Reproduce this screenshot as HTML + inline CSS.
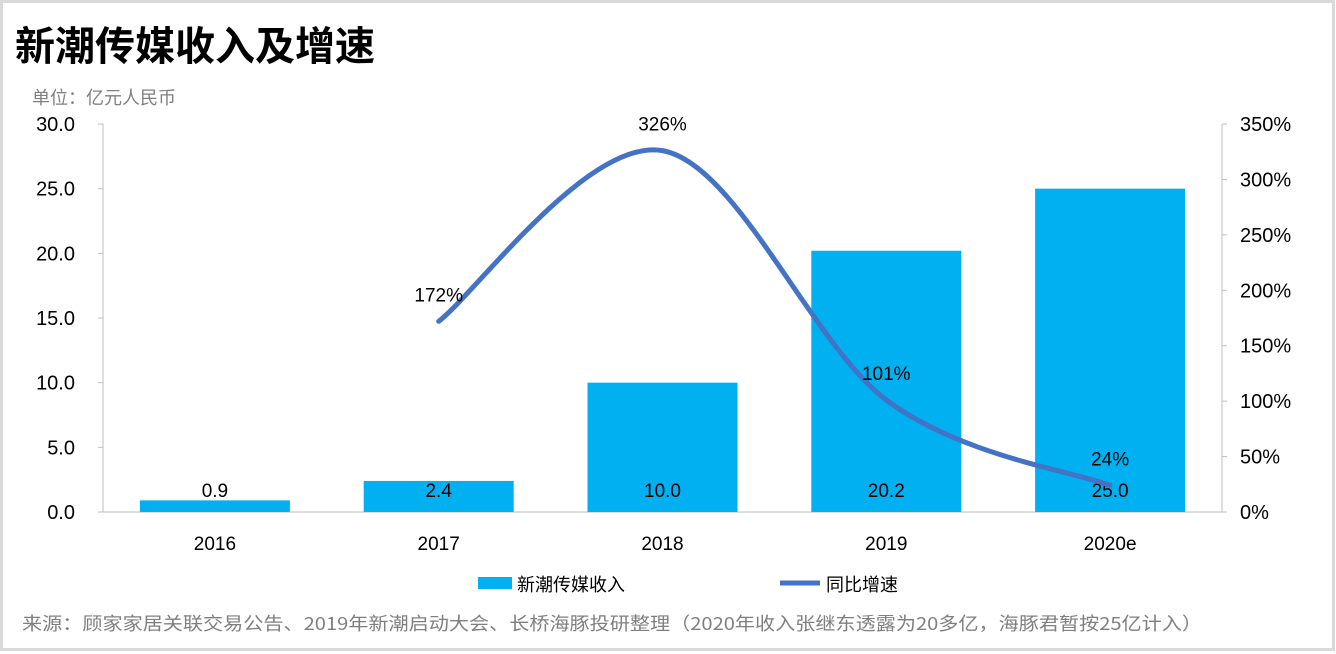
<!DOCTYPE html>
<html><head><meta charset="utf-8"><style>
html,body{margin:0;padding:0;background:#fff;}
svg{display:block;font-family:"Liberation Sans","Noto Sans CJK SC",sans-serif;}
</style></head><body>
<svg id="c" width="1336" height="654" viewBox="0 0 1336 654">
<rect x="1.5" y="1.5" width="1332" height="648" fill="#fff" stroke="#d9d9d9" stroke-width="3"/>
<text x="15" y="60" font-size="40" font-weight="bold" fill="#000" textLength="360" lengthAdjust="spacingAndGlyphs" font-family="'Noto Sans CJK SC',sans-serif">新潮传媒收入及增速</text>
<text x="32" y="104" font-size="18" fill="#7f7f7f" font-family="'Noto Sans CJK SC',sans-serif">单位：亿元人民币</text>
<g id="plot"></g>
<g>
<rect x="478" y="577" width="34" height="12" fill="#00b0f0"/>
<text x="517" y="591" font-size="18" fill="#000" font-family="'Noto Sans CJK SC',sans-serif">新潮传媒收入</text>
<line x1="780" y1="583" x2="820" y2="583" stroke="#4472c4" stroke-width="5"/>
<text x="826" y="591" font-size="18" fill="#000" font-family="'Noto Sans CJK SC',sans-serif">同比增速</text>
</g>
<text x="22" y="630" font-size="18" fill="#7f7f7f" textLength="1180" lengthAdjust="spacingAndGlyphs" font-family="'Noto Sans CJK SC',sans-serif">来源：顾家家居关联交易公告、2019年新潮启动大会、长桥海豚投研整理（2020年收入张继东透露为20多亿，海豚君暂按25亿计入）</text>
</svg>
<script>
const categories=["2016","2017","2018","2019","2020e"];
const revenue=[0.9,2.4,10.0,20.2,25.0];
const growth=[null,172,326,101,24];
const leftTicks=["0.0","5.0","10.0","15.0","20.0","25.0","30.0"];
const rightTicks=["0%","50%","100%","150%","200%","250%","300%","350%"];
const NS="http://www.w3.org/2000/svg";
const g=document.getElementById('plot');
const X0=103,X1=1222,Y0=512,Y1=124;
const band=(X1-X0)/categories.length;
const xc=i=>X0+band*(i+0.5);
const yL=v=>Y0-(v/30)*(Y0-Y1);
const yR=v=>Y0-(v/350)*(Y0-Y1);
function mk(t,a,txt){const e=document.createElementNS(NS,t);for(const k in a)e.setAttribute(k,a[k]);if(txt!=null)e.textContent=txt;g.appendChild(e);return e;}
let ax=mk('line',{x1:X0,y1:Y1,x2:X0,y2:Y0,stroke:'#bfbfbf'});

ax=mk('line',{x1:X1,y1:Y1,x2:X1,y2:Y0,stroke:'#bfbfbf'});

ax=mk('line',{x1:X0,y1:Y0,x2:X1,y2:Y0,stroke:'#bfbfbf'});

leftTicks.forEach((t,i)=>{const y=Y0-i*(Y0-Y1)/(leftTicks.length-1);
 const l=mk('line',{x1:X0-5,y1:y,x2:X0,y2:y,stroke:'#bfbfbf'});
 const e=mk('text',{x:75,y:y+7,'font-size':20,'text-anchor':'end',fill:'#000'},t);
 });
rightTicks.forEach((t,i)=>{const y=Y0-i*(Y0-Y1)/(rightTicks.length-1);
 const l=mk('line',{x1:X1,y1:y,x2:X1+5,y2:y,stroke:'#bfbfbf'});
 const e=mk('text',{x:1240,y:y+7,'font-size':20,fill:'#000'},t);
 });
categories.forEach((c,i)=>{
 const b=mk('rect',{x:xc(i)-75,y:yL(revenue[i]),width:150,height:Y0-yL(revenue[i]),fill:'#00b0f0'});
 
 const v=mk('text',{x:xc(i),y:497,'font-size':19,'text-anchor':'middle',fill:'#000'},revenue[i].toFixed(1));
 
 const t=mk('text',{x:xc(i),y:550,'font-size':19,'text-anchor':'middle',fill:'#000'},c);
 
});
const pts=[];growth.forEach((v,i)=>{if(v!=null)pts.push([xc(i),yR(v),v]);});
let d='M'+pts[0][0]+','+pts[0][1];
for(let i=0;i<pts.length-1;i++){
 const p0=pts[i-1]||pts[i],p1=pts[i],p2=pts[i+1],p3=pts[i+2]||p2,k=1/6;
 d+=' C'+(p1[0]+(p2[0]-p0[0])*k)+','+(p1[1]+(p2[1]-p0[1])*k)+' '+(p2[0]-(p3[0]-p1[0])*k)+','+(p2[1]-(p3[1]-p1[1])*k)+' '+p2[0]+','+p2[1];
}
const line=mk('path',{d:d,fill:'none',stroke:'#4472c4','stroke-width':5,'stroke-linecap':'round'});

pts.forEach(p=>{const e=mk('text',{x:p[0],y:p[1]-20,'font-size':19,'text-anchor':'middle',fill:'#000'},p[2]+'%');
 });
</script>
</body></html>
